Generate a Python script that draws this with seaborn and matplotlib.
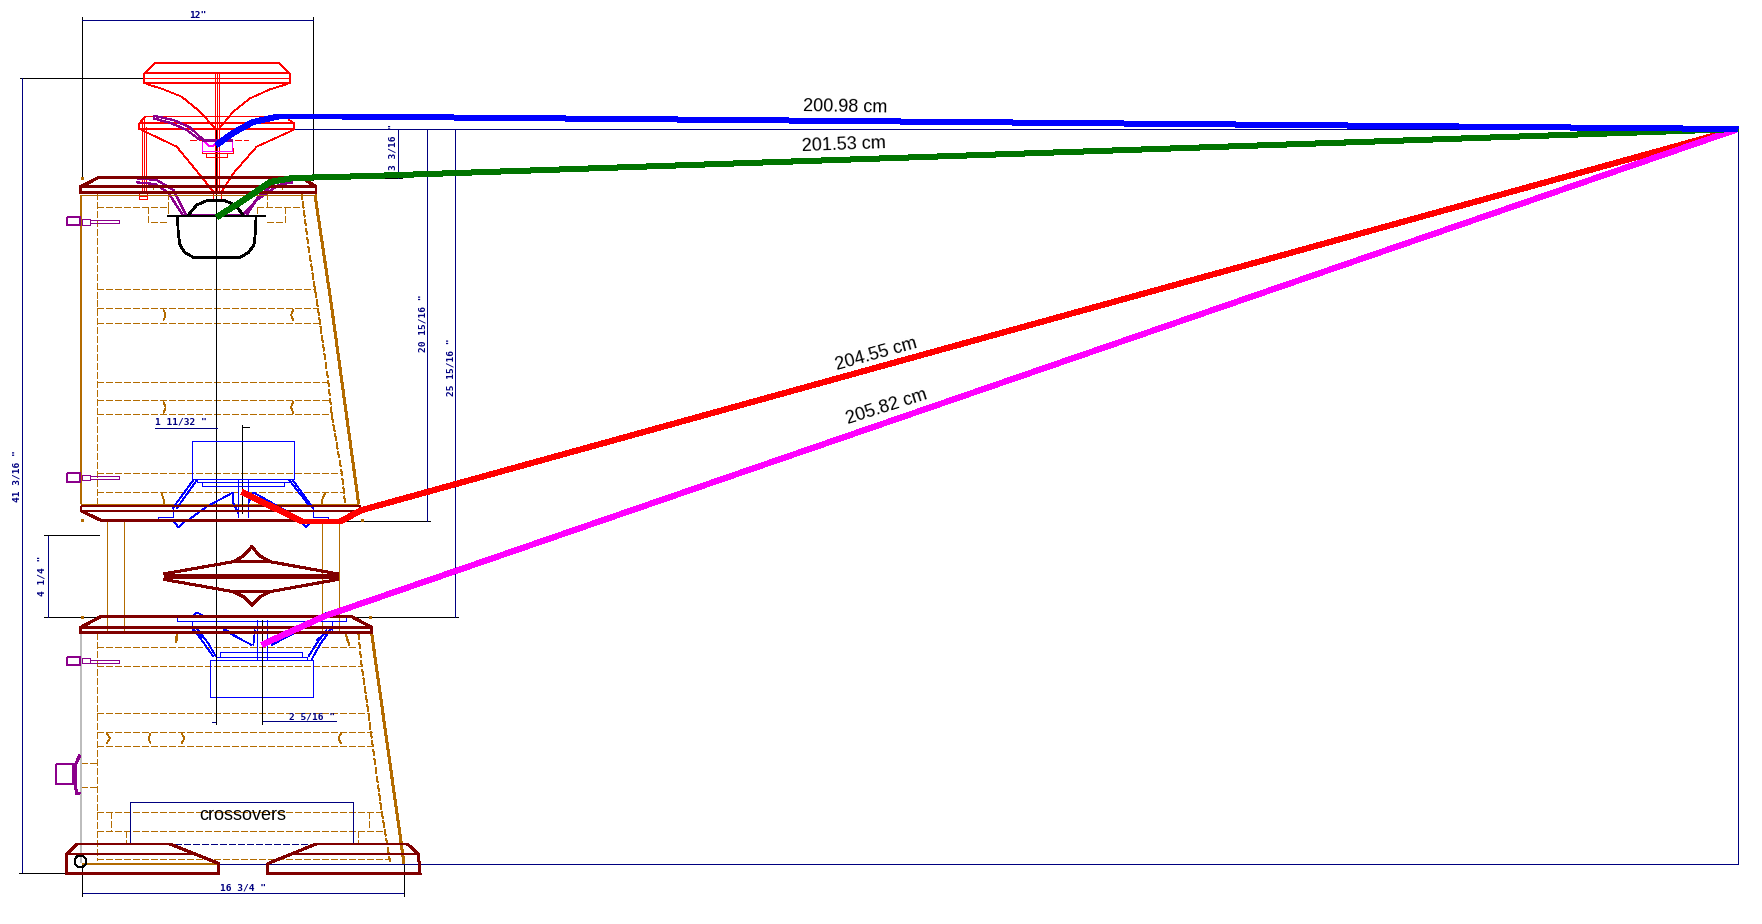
import matplotlib
matplotlib.use("Agg")
import matplotlib.pyplot as plt
import seaborn as sns

sns.set_theme(style="white")

NAVY = "#000080"; DRED = "#800000"; BROWN = "#b36b00"; PURPLE = "#8b008b"
RED = "#ff0000"; BLUE = "#0000ff"; GREEN = "#007400"; MAG = "#ff00ff"; BLK = "#000000"
GREY = "#bdbdbd"
THIN = 0.7

# ---- the four measured paths (image pixels) and their labels
blue_path = [(216.5, 145), (233, 133), (253, 122), (278, 116.5), (342, 116.5), (1738, 129)]
green_path = [(217, 217), (247, 198), (270, 182), (293, 178), (370, 176), (1738, 129)]
red_path = [(242, 492), (302, 521.5), (340, 521.5), (362, 510), (1738, 129)]
magenta_path = [(262, 645), (270, 641), (325, 616), (1738, 129)]
path_labels = ["200.98 cm", "201.53 cm", "204.55 cm", "205.82 cm"]
label_x = [845, 844, 876, 887]
label_y = [107, 145.5, 354, 407]
label_rot = [-1, 2, 15.5, 17.5]

# ---- dimension texts
dim_texts = ['12"', '3 3/16 "', '20 15/16 "', '25 15/16 "', '41 3/16 "', '4 1/4 "', '1 11/32 "', '2 5/16 "', '16 3/4 "']
dim_x = [198, 393, 423, 451, 17, 42, 181, 312, 243]
dim_y = [16, 147, 323, 367, 476, 576, 422, 717, 888]
dim_rot = [0, 90, 90, 90, 90, 90, 0, 0, 0]

# ---- drawing groups: polylines in 3x crop units
top_red = [
    [(433, 220), (463, 190), (838, 190), (869, 220), (869, 250), (433, 250), (433, 220), (869, 220)],
    [(433, 233), (869, 233)],
    [(440, 252), (490, 268), (545, 290), (600, 335), (645, 385)],
    [(862, 252), (810, 268), (750, 295), (700, 335), (658, 385)],
    [(645, 220), (645, 575)], [(650, 220), (650, 575)], [(656, 220), (656, 575)],
    [(437, 349), (418, 370), (883, 370), (883, 388), (418, 388), (418, 370)],
    [(865, 358), (883, 370)],
    [(437, 349), (830, 349)],
    [(425, 390), (530, 440), (600, 525), (640, 575)],
    [(880, 390), (770, 440), (700, 520), (665, 575)],
    [(425, 355), (425, 578)], [(433, 355), (433, 578)], [(438, 380), (438, 578)], [(425, 355), (433, 355)],
    [(418, 578), (440, 578), (440, 596), (418, 596), (418, 578)], [(418, 588), (440, 588)],
    [(640, 575), (662, 575), (662, 598), (640, 598), (640, 575)],
    [(605, 445), (605, 458), (698, 458), (698, 445)],
    [(618, 458), (618, 472), (682, 472), (682, 458)],
]
top_purple = [
    [(460, 347), (520, 360), (570, 382), (610, 420)],
    [(460, 355), (515, 370), (560, 390), (600, 420)],
    [(410, 535), (470, 540), (520, 570), (558, 645)],
    [(410, 547), (465, 552), (505, 578), (548, 645)],
    [(878, 535), (830, 545), (775, 590), (740, 645)],
    [(878, 547), (835, 555), (770, 600), (728, 645)],
    [(560, 645), (730, 645)],
    [(605, 420), (695, 420)],
]
top_magenta = [
    [(605, 420), (605, 452), (695, 452), (695, 420)],
    [(610, 420), (625, 437), (640, 437), (655, 420)],
]
top_dred = [
    [(242, 560), (295, 533), (905, 533), (948, 560), (948, 578), (242, 578), (242, 560), (948, 560)],
]
top_brown_thick = [
    [(243, 585), (243, 900)], [(945, 585), (992, 900)],
]
top_brown_thin = [[(243, 585), (945, 585)]]
top_dash = [
    [(290, 578), (290, 900)], [(905, 578), (925, 740), (945, 868), (950, 900)],
    [(290, 622), (505, 622)], [(770, 622), (905, 622)],
    [(445, 622), (445, 665), (505, 665)], [(505, 622), (505, 645)],
    [(855, 622), (855, 665), (800, 665)], [(770, 622), (770, 645)],
    [(290, 868), (945, 868)], [(460, 550), (460, 575)], [(845, 550), (845, 575)],
    [(800, 578), (800, 620)], [(505, 580), (505, 620)],
]
top_black = [
    [(501, 648), (798, 648)], [(532, 652), (535, 700), (540, 735), (555, 758), (580, 772), (720, 772), (745, 758), (762, 735), (766, 700), (768, 652)],
    [(565, 645), (590, 615), (620, 602), (675, 602), (705, 615), (730, 645)],
]
top_term = [[(200, 650), (240, 650), (240, 676), (200, 676), (200, 650)]]
top_term_thin = [
    [(245, 658), (270, 658), (270, 674), (245, 674), (245, 658)],
    [(270, 660), (356, 660), (356, 668), (270, 668)],
]
top_dim_black = [
    [(245, 52), (245, 530)], [(940, 52), (940, 540)], [(60, 233), (455, 233)],
    [(649, 388), (649, 900)], [(1110, 535), (1205, 535)],
]
top_dim_navy = [
    [(245, 61), (940, 61)], [(1195, 388), (1195, 533)], [(1282, 388), (1282, 900)],
    [(1366, 388), (1366, 900)], [(67, 235), (67, 900)], [(652, 388), (5214, 388)], [(5214, 388), (5214, 900)],
]

mid_dash = [
    [(290, 0), (290, 612)], [(950, 0), (960, 70), (985, 245), (995, 343), (1025, 518), (1032, 577), (1035, 612)],
    [(290, 25), (950, 25)], [(290, 70), (960, 70)], [(290, 245), (985, 245)], [(290, 300), (992, 300)],
    [(290, 343), (995, 343)], [(290, 518), (1025, 518)], [(290, 577), (1032, 577)],
]
mid_arc = [
    [(490, 28), (497, 45), (490, 62)], [(880, 28), (873, 45), (880, 62)],
    [(490, 305), (497, 322), (490, 340)], [(880, 305), (873, 322), (880, 340)],
    [(485, 580), (491, 598), (491, 615)], [(975, 580), (967, 598), (967, 615)],
]
mid_brown_thick = [[(243, 0), (243, 612)], [(992, 0), (1076, 612)], [(243, 614), (1076, 614)]]
mid_brown_thin = [
    [(322, 665), (322, 998)], [(373, 665), (373, 998)], [(967, 665), (967, 998)], [(1018, 665), (1018, 998)],
    [(530, 1000), (530, 1020)], [(1037, 1000), (1037, 1020)],
]
mid_dred = [
    [(242, 618), (1080, 618), (1080, 632), (242, 632), (242, 618)],
    [(242, 632), (305, 662), (1020, 662), (1080, 632)],
    [(490, 822), (700, 785), (810, 785), (1015, 822)],
    [(700, 785), (730, 768), (755, 740), (780, 768), (810, 785)],
    [(490, 838), (700, 875), (810, 875), (1015, 838)],
    [(700, 875), (730, 890), (755, 915), (780, 890), (810, 875)],
    [(242, 982), (302, 950), (1055, 950), (1115, 982), (1115, 997), (242, 997), (242, 982), (1115, 982)],
]
diamond_bar = [[(492, 828), (1015, 828)]]
mid_blue = [
    [(577, 424), (881, 424), (881, 536), (577, 536), (577, 424)],
    [(592, 536), (592, 547), (866, 547), (866, 536)],
    [(607, 547), (607, 559), (851, 559), (851, 547), (607, 547)],
    [(715, 536), (715, 652)], [(743, 536), (743, 652)],
    [(592, 538), (530, 625)], [(580, 540), (518, 625)], [(866, 538), (930, 620)], [(878, 540), (940, 625)],
    [(518, 625), (518, 652), (475, 652), (475, 660), (983, 660), (983, 652), (940, 652), (940, 625)],
    [(520, 662), (535, 682), (555, 662)], [(900, 662), (918, 682), (935, 662)],
    [(700, 577), (620, 620), (565, 660)], [(760, 577), (880, 645)],
    [(700, 577), (700, 610), (715, 640)], [(760, 577), (745, 610)],
    [(530, 952), (1037, 952), (1037, 964), (530, 964), (530, 952)],
    [(575, 964), (575, 1000)], [(995, 964), (995, 1000)], [(575, 985), (995, 985)],
    [(578, 950), (590, 937), (605, 945), (610, 950)], [(965, 950), (980, 937), (995, 950)],
    [(770, 965), (770, 1020)], [(800, 965), (800, 1020)],
    [(590, 1000), (620, 1020)], [(670, 985), (725, 1020)], [(990, 990), (950, 1020)],
]
mid_black = [
    [(649, 0), (649, 1020)], [(727, 376), (727, 640)], [(727, 381), (747, 381)], [(133, 706), (297, 706)],
    [(133, 952), (1373, 952)], [(1020, 663), (1290, 663)], [(785, 960), (785, 1020)],
]
mid_navy = [
    [(465, 383), (650, 383)], [(143, 708), (143, 950)], [(67, 0), (67, 1020)],
    [(1282, 0), (1282, 663)], [(1366, 0), (1366, 952)], [(5214, 0), (5214, 1020)],
]
mid_term = [[(200, 518), (240, 518), (240, 547), (200, 547), (200, 518)]]
mid_term_thin = [
    [(245, 526), (270, 526), (270, 541), (245, 541), (245, 526)],
    [(270, 529), (356, 529), (356, 538), (270, 538)],
]

low_dash = [
    [(290, 40), (290, 720)], [(1075, 40), (1085, 138), (1105, 278), (1118, 377), (1145, 575), (1170, 725)],
    [(290, 80), (1075, 80)], [(290, 138), (1085, 138)], [(290, 278), (1105, 278)], [(290, 335), (1115, 335)],
    [(290, 377), (1118, 377)], [(290, 575), (1145, 575)], [(290, 632), (1150, 632)], [(290, 718), (1170, 718)],
    [(243, 428), (290, 428)], [(243, 500), (290, 500)], [(332, 575), (332, 632)], [(1107, 575), (1107, 620)],
    [(377, 632), (377, 670)], [(1075, 632), (1075, 670)],
]
low_arc = [
    [(320, 340), (330, 355), (320, 370)], [(545, 340), (553, 355), (545, 370)],
    [(452, 340), (445, 355), (452, 370)], [(1023, 340), (1015, 355), (1023, 370)],
    [(530, 42), (527, 68)], [(1037, 42), (1048, 75)],
]
low_brown_thick = [[(243, 40), (1115, 40)], [(1115, 40), (1212, 730)], [(245, 732), (650, 732)]]
low_grey = [[(243, 42), (243, 730)]]
low_navy = [
    [(391, 672), (391, 545), (1060, 545), (1060, 672)], [(245, 820), (1213, 820)], [(785, 304), (1008, 304)],
    [(67, 0), (67, 760)], [(650, 733), (5214, 733)], [(5214, 0), (5214, 733)], [(635, 305), (649, 305)],
]
low_navy_dash = [[(391, 672), (1060, 672)]]
low_dred = [
    [(200, 702), (232, 672), (510, 672), (650, 728), (655, 730), (655, 760), (200, 760), (200, 702), (580, 702)],
    [(810, 728), (948, 672), (1222, 672), (1255, 702), (1260, 760), (803, 760), (803, 733), (810, 728)],
    [(880, 702), (1255, 702)],
]
low_blue = [
    [(631, 121), (938, 121), (938, 232), (631, 232), (631, 121)],
    [(648, 121), (648, 110), (922, 110), (922, 121)],
    [(661, 110), (661, 97), (905, 97), (905, 110)],
    [(770, 0), (770, 121)], [(800, 0), (800, 121)],
    [(648, 110), (625, 70), (590, 25)], [(640, 110), (612, 70), (578, 25)],
    [(925, 110), (950, 70), (980, 30)], [(935, 118), (962, 70), (995, 25)],
    [(755, 75), (670, 30)], [(815, 75), (900, 30)], [(760, 75), (765, 30)],
]
low_black = [
    [(649, 0), (649, 313)], [(785, 0), (785, 313)], [(245, 735), (245, 828)], [(1213, 735), (1213, 828)],
    [(58, 760), (195, 760)],
    [(232, 708), (250, 708), (257, 716), (257, 732), (250, 740), (232, 740), (226, 732), (226, 716), (232, 708)],
]
low_term = [
    [(200, 110), (240, 110), (240, 135), (200, 135), (200, 110)],
    [(167, 433), (218, 433), (218, 492), (167, 492), (167, 433)],
    [(240, 405), (228, 430), (225, 490), (230, 520), (240, 522)],
]
low_term_thin = [
    [(245, 115), (270, 115), (270, 130), (245, 130), (245, 115)],
    [(270, 121), (356, 121), (356, 128), (270, 128)],
]
port_block = [[(221, 440), (221, 490)]]
orange_dots = [[(81, 177.5), (82.5, 177.5)], [(81, 520), (82.5, 520)], [(361, 520), (362.5, 520)], [(81, 617), (82.5, 617)], [(369, 617), (370.5, 617)]]

fig = plt.figure(figsize=(17.62, 9.24), dpi=100, facecolor="white")
ax = fig.add_axes([0, 0, 1, 1])
PX = 0.72


def draw(lines, color, width, oy=0.0, dashed=False, scale=3.0, zorder=2):
    for pts in lines:
        xs = [p[0] / scale for p in pts]
        ys = [p[1] / scale + oy for p in pts]
        kw = {"linestyle": (0, (6.5 / width, 2.5 / width))} if dashed else {}
        sns.lineplot(x=xs, y=ys, sort=False, estimator=None, color=color, linewidth=width * PX,
                     ax=ax, legend=False, antialiased=False, zorder=zorder,
                     solid_capstyle="butt", solid_joinstyle="miter", **kw)


draw(top_dash, BROWN, THIN, 0, True); draw(mid_dash, BROWN, THIN, 300, True); draw(low_dash, BROWN, THIN, 620, True)
draw(mid_arc, BROWN, THIN, 300); draw(low_arc, BROWN, THIN, 620)
draw(top_dim_black, BLK, 1); draw(top_dim_navy, NAVY, 1)
draw(top_red, RED, THIN); draw(top_magenta, MAG, THIN)
draw([[(570, 421), (745, 421)]], RED, THIN, 0, True)
draw(top_purple, PURPLE, 1.2)
draw(top_dred, DRED, 2)
draw(top_brown_thick, BROWN, 2); draw(top_brown_thin, BROWN, 1)
draw(top_black, BLK, 1.7)
draw(top_term, PURPLE, 2); draw(top_term_thin, PURPLE, THIN)
draw(mid_brown_thick, BROWN, 2, 300); draw(mid_brown_thin, BROWN, 1, 300)
draw(mid_black, BLK, 1, 300); draw(mid_navy, NAVY, 1, 300)
draw(mid_blue, BLUE, THIN, 300)
draw(mid_dred, DRED, 2, 300, zorder=3); draw(diamond_bar, DRED, 5, 300)
draw(mid_term, PURPLE, 2, 300); draw(mid_term_thin, PURPLE, THIN, 300)
draw(low_grey, GREY, 2, 620); draw(low_brown_thick, BROWN, 2, 620)
draw(low_navy, NAVY, 1, 620); draw(low_navy_dash, NAVY, THIN, 620, True)
draw(low_blue, BLUE, THIN, 620); draw(low_black, BLK, 1, 620)
draw(low_dred, DRED, 2, 620, zorder=3)
draw(low_term, PURPLE, 2, 620); draw(low_term_thin, PURPLE, THIN, 620); draw(port_block, PURPLE, 5, 620)
draw(orange_dots, BROWN, 3, 0, scale=1.0)

draw([red_path], RED, 5, scale=1.0, zorder=5)
draw([magenta_path], MAG, 5, scale=1.0, zorder=5)
draw([green_path], GREEN, 5, scale=1.0, zorder=6)
draw([blue_path], BLUE, 5, scale=1.0, zorder=7)

for s, x, y, r in zip(path_labels, label_x, label_y, label_rot):
    ax.text(x, y, s, rotation=r, rotation_mode="anchor", ha="center", va="center", color="black",
            family="Liberation Sans", fontsize=13)
ax.text(243, 815, "crossovers", ha="center", va="center", color="black", family="Liberation Sans", fontsize=13)
for s, x, y, r in zip(dim_texts, dim_x, dim_y, dim_rot):
    ax.text(x, y, s, rotation=r, ha="center", va="center", color=NAVY,
            family="DejaVu Sans Mono", fontweight="bold", fontsize=6.8)

ax.set_xlim(0, 1762)
ax.set_ylim(924, 0)
ax.axis("off")
fig.savefig("out.png", dpi=100, facecolor="white")
